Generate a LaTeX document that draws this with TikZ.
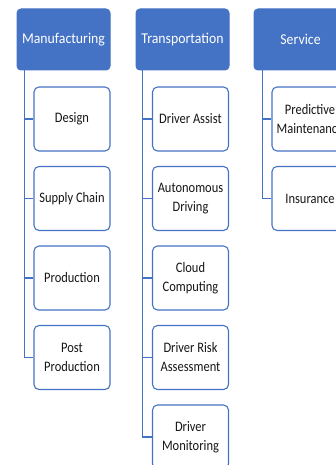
\documentclass[tikz,border=0pt]{standalone}
\usepackage{fontspec}
\setmainfont{Carlito}
\newfontfamily\headfont[FakeStretch=0.92]{Carlito}
\newfontfamily\itemfont[FakeStretch=0.86]{Carlito}
\usetikzlibrary{calc}
\definecolor{ofblue}{HTML}{4472C4}
\definecolor{txtdark}{HTML}{161616}
\tikzset{
  header/.style={draw=ofblue, fill=ofblue, rounded corners=4pt, line width=1pt,
    minimum width=93pt, minimum height=61pt, text=white,
    font=\headfont\fontsize{15}{18}\selectfont, inner sep=0pt},
  item/.style={draw=ofblue, fill=white, rounded corners=5pt, line width=1.1pt,
    minimum width=76pt, minimum height=64pt, text=txtdark, align=center,
    font=\itemfont\fontsize{14.5}{19}\selectfont, inner sep=0pt},
  link/.style={draw=ofblue, line width=1.1pt},
}
\begin{document}
\begin{tikzpicture}[x=1pt,y=-1pt]
\useasboundingbox (0,0) rectangle (336,465);
\clip (0,0) rectangle (336,465);
% column headers
\node[header] (hM) at (63.5,39.5) {Manufacturing};
\node[header] (hT) at (182.5,39.5) {Transportation};
\node[header] (hS) at (300.5,39.5) {Service};
% Manufacturing items
\node[item] (m1) at (72,119) {Design};
\node[item] (m2) at (72,198.5) {Supply Chain};
\node[item] (m3) at (72,278) {Production};
\node[item] (m4) at (72,357.5) {Post\\Production};
% Transportation items
\node[item] (t1) at (190.5,119) {Driver Assist};
\node[item] (t2) at (190.5,198.5) {Autonomous\\Driving};
\node[item] (t3) at (190.5,278) {Cloud\\Computing};
\node[item] (t4) at (190.5,357.5) {Driver Risk\\Assessment};
\node[item] (t5) at (190.5,437) {Driver\\Monitoring};
% Service items
\node[item] (s1) at (310,119) {Predictive\\Maintenance};
\node[item] (s2) at (310,198.5) {Insurance};
% trunk positions below each header
\coordinate (bM) at ($(hM.south west)+(8,0)$);
\coordinate (bT) at ($(hT.south west)+(7,0)$);
\coordinate (bS) at ($(hS.south west)+(9,0)$);
% connectors
\foreach \c in {m1,m2,m3,m4} \draw[link] (bM) |- (\c.west);
\foreach \c in {t1,t2,t3,t4,t5} \draw[link] (bT) |- (\c.west);
\foreach \c in {s1,s2} \draw[link] (bS) |- (\c.west);
\end{tikzpicture}
\end{document}
